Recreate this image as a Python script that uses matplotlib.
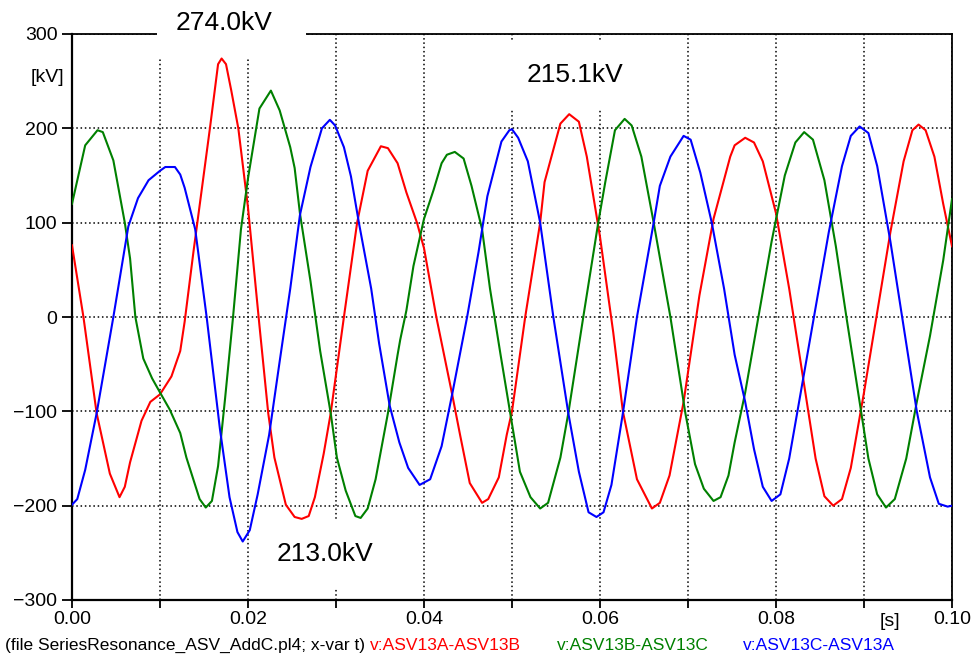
import matplotlib
matplotlib.use("Agg")
import matplotlib.pyplot as plt
from matplotlib.patches import Rectangle
from matplotlib.ticker import FixedLocator

plt.rcParams['font.family'] = ['Liberation Sans', 'DejaVu Sans']

# ---------------- data ----------------
red_t = [0, 0.0013, 0.0028, 0.0043, 0.0054, 0.0060, 0.0066, 0.0079, 0.0089, 0.0100,
         0.0113, 0.0123, 0.0128, 0.0138, 0.0157, 0.0166, 0.0170, 0.0175, 0.0181, 0.0189,
         0.0200, 0.0213, 0.0223, 0.0230, 0.0243, 0.0253, 0.0261, 0.0269, 0.0276, 0.0286,
         0.0294, 0.0309, 0.0324, 0.0336, 0.0351, 0.0359, 0.0370, 0.0380, 0.0392, 0.0400,
         0.0414, 0.0432, 0.0441, 0.0452, 0.0466, 0.0473, 0.0485, 0.0494, 0.0500, 0.0515,
         0.0532, 0.0537, 0.0555, 0.0565, 0.0576, 0.0585, 0.0600, 0.0615, 0.0626, 0.0642,
         0.0659, 0.0668, 0.0679, 0.0695, 0.0713, 0.0729, 0.0748, 0.0753, 0.0765, 0.0775,
         0.0785, 0.0800, 0.0815, 0.0830, 0.0845, 0.0855, 0.0865, 0.0875, 0.0885, 0.0900,
         0.0915, 0.0930, 0.0945, 0.0955, 0.0962, 0.0970, 0.0980, 0.0990, 0.1000]
red_v = [76, 0, -102, -166, -191, -180, -154, -110, -90, -82,
         -63, -36, -5, 69, 202, 268, 274, 268, 240, 200,
         116, -9, -102, -149, -199, -212, -214, -211, -191, -145,
         -102, 0, 100, 155, 181, 179, 163, 132, 100, 73,
         0, -82, -125, -176, -197, -193, -170, -125, -100, 0,
         100, 143, 205, 215, 207, 170, 85, -16, -100, -172,
         -203, -197, -168, -90, 23, 104, 170, 182, 190, 185,
         165, 110, 30, -60, -150, -190, -200, -193, -160, -80,
         5, 90, 165, 198, 204, 198, 170, 120, 75]

green_t = [0, 0.0015, 0.0029, 0.0035, 0.0047, 0.0060, 0.0066, 0.0072, 0.0081, 0.0091,
           0.0100, 0.0111, 0.0123, 0.0130, 0.0145, 0.0152, 0.0159, 0.0166, 0.0174, 0.0183,
           0.0192, 0.0200, 0.0213, 0.0226, 0.0236, 0.0248, 0.0253, 0.0259, 0.0271, 0.0282,
           0.0294, 0.0301, 0.0311, 0.0322, 0.0328, 0.0336, 0.0345, 0.0359, 0.0370, 0.0373,
           0.0380, 0.0388, 0.0400, 0.0411, 0.0420, 0.0426, 0.0435, 0.0445, 0.0454, 0.0466,
           0.0475, 0.0487, 0.0498, 0.0509, 0.0521, 0.0532, 0.0541, 0.0555, 0.0564, 0.0581,
           0.0598, 0.0606, 0.0617, 0.0628, 0.0636, 0.0647, 0.0661, 0.0680, 0.0697, 0.0708,
           0.0718, 0.0729, 0.0737, 0.0746, 0.0753, 0.0765, 0.0780, 0.0795, 0.0810, 0.0822,
           0.0832, 0.0842, 0.0855, 0.0868, 0.0880, 0.0895, 0.0905, 0.0915, 0.0925, 0.0935,
           0.0948, 0.0960, 0.0975, 0.0990, 0.1000]
green_v = [120, 182, 198, 196, 166, 100, 62, 0, -44, -65,
           -80, -98, -123, -149, -193, -202, -195, -158, -86, 0,
           93, 147, 221, 240, 219, 180, 158, 110, 38, -36,
           -102, -149, -184, -211, -213, -203, -172, -102, -40, -24,
           7, 54, 104, 135, 163, 172, 175, 168, 139, 93,
           30, -40, -102, -164, -191, -203, -197, -149, -102, 0,
           100, 143, 198, 210, 203, 170, 100, 0, -102, -156,
           -182, -195, -191, -168, -133, -80, 0, 80, 150, 185,
           196, 188, 145, 75, 0, -90, -150, -188, -202, -193,
           -150, -90, -20, 60, 125]

blue_t = [0, 0.0006, 0.0015, 0.0028, 0.0047, 0.0064, 0.0075, 0.0087, 0.0100, 0.0106,
          0.0117, 0.0123, 0.0128, 0.0140, 0.0153, 0.0168, 0.0179, 0.0188, 0.0194, 0.0202,
          0.0211, 0.0224, 0.0236, 0.0248, 0.0259, 0.0271, 0.0284, 0.0293, 0.0299, 0.0309,
          0.0317, 0.0326, 0.0340, 0.0349, 0.0361, 0.0372, 0.0382, 0.0395, 0.0407, 0.0420,
          0.0432, 0.0449, 0.0462, 0.0472, 0.0488, 0.0497, 0.0500, 0.0507, 0.0518, 0.0532,
          0.0547, 0.0564, 0.0576, 0.0587, 0.0596, 0.0604, 0.0613, 0.0626, 0.0642, 0.0661,
          0.0668, 0.0680, 0.0695, 0.0703, 0.0714, 0.0727, 0.0741, 0.0753, 0.0765, 0.0775,
          0.0785, 0.0795, 0.0805, 0.0815, 0.0830, 0.0845, 0.0860, 0.0875, 0.0885, 0.0895,
          0.0905, 0.0915, 0.0930, 0.0945, 0.0960, 0.0975, 0.0985, 0.0995, 0.1000]
blue_v = [-199, -193, -162, -102, 0, 96, 126, 145, 155, 159,
          159, 151, 137, 93, 0, -118, -191, -228, -238, -226,
          -188, -125, -47, 30, 108, 159, 200, 209, 203, 180,
          149, 100, 30, -28, -94, -133, -160, -178, -172, -137,
          -82, 0, 69, 128, 186, 198, 199, 190, 165, 100,
          0, -102, -164, -207, -212, -207, -178, -102, 0, 100,
          139, 170, 192, 188, 153, 100, 30, -40, -90, -140,
          -180, -195, -188, -150, -70, 10, 90, 160, 192, 202,
          195, 160, 80, -10, -100, -170, -198, -201, -200]

x_major = [0.00, 0.02, 0.04, 0.06, 0.08, 0.10]
x_major_labels = ["0.00", "0.02", "0.04", "0.06", "0.08", "0.10"]
x_minor = [0.01, 0.03, 0.05, 0.07, 0.09]
y_ticks = [-300, -200, -100, 0, 100, 200, 300]
y_tick_labels = ["\u2212300", "\u2212200", "\u2212100", "0", "100", "200", "300"]

series_names = ["v:ASV13A-ASV13B", "v:ASV13B-ASV13C", "v:ASV13C-ASV13A"]
series_colors = ["#ff0000", "#008000", "#0000ff"]
file_label = "(file SeriesResonance_ASV_AddC.pl4; x-var t)"
annotations = ["274.0kV", "215.1kV", "213.0kV"]

# ---------------- figure ----------------
W, H = 976, 655
fig = plt.figure(figsize=(W / 100, H / 100), dpi=100)


def fx(px):
    return px / W


def fy(py):
    return 1 - py / H


ax = fig.add_axes([fx(72), fy(600), fx(952) - fx(72), fy(34) - fy(600)])
ax.set_xlim(0, 0.1)
ax.set_ylim(-300, 300)

ax.xaxis.set_major_locator(FixedLocator(x_major))
ax.xaxis.set_minor_locator(FixedLocator(x_minor))
ax.set_xticklabels(x_major_labels)
ax.set_yticks(y_ticks)
ax.set_yticklabels(y_tick_labels)

ax.tick_params(axis='both', which='both', direction='out', width=1.3, color='black',
               labelsize=14)
ax.tick_params(axis='y', which='major', length=7, pad=3.5)
ax.tick_params(axis='x', which='both', length=6, pad=2)

for s in ['left', 'bottom']:
    ax.spines[s].set_linewidth(1.6)
for s in ['top', 'right']:
    ax.spines[s].set_linewidth(1.3)

ax.set_axisbelow(True)
ax.grid(True, which='major', axis='y', color='black', linestyle=(0, (1, 1.8)), linewidth=1.1)
ax.grid(True, which='both', axis='x', color='black', linestyle=(0, (1, 1.8)), linewidth=1.1)

ax.plot(red_t, red_v, color=series_colors[0], lw=1.5, zorder=3)
ax.plot(green_t, green_v, color=series_colors[1], lw=1.5, zorder=3)
ax.plot(blue_t, blue_v, color=series_colors[2], lw=1.5, zorder=3)

# white boxes behind annotations (hide grid / spine parts)
boxes = [(157, 0, 306, 58), (508, 40, 656, 110), (258, 520, 407, 588)]
for (x0, y0, x1, y1) in boxes:
    ax.add_patch(Rectangle((fx(x0), fy(y1)), fx(x1) - fx(x0), fy(y0) - fy(y1),
                           transform=fig.transFigure, facecolor='white',
                           edgecolor='none', zorder=2.8, clip_on=False))

fig.text(fx(176), fy(23), annotations[0], fontsize=19, ha='left', va='center', zorder=5)
fig.text(fx(527), fy(75), annotations[1], fontsize=19, ha='left', va='center', zorder=5)
fig.text(fx(277), fy(554), annotations[2], fontsize=19, ha='left', va='center', zorder=5)

fig.text(fx(47.5), fy(78), "[kV]", fontsize=14, ha='center', va='center')
fig.text(fx(889.5), fy(621), "[s]", fontsize=14, ha='center', va='center')

fig.text(fx(5), fy(645), file_label, fontsize=12.5, ha='left', va='center', color='black')
for name, col, xpx in zip(series_names, series_colors, [370, 557, 743]):
    fig.text(fx(xpx), fy(645), name, fontsize=12.5, ha='left', va='center', color=col)

fig.savefig("out.png", dpi=100)
